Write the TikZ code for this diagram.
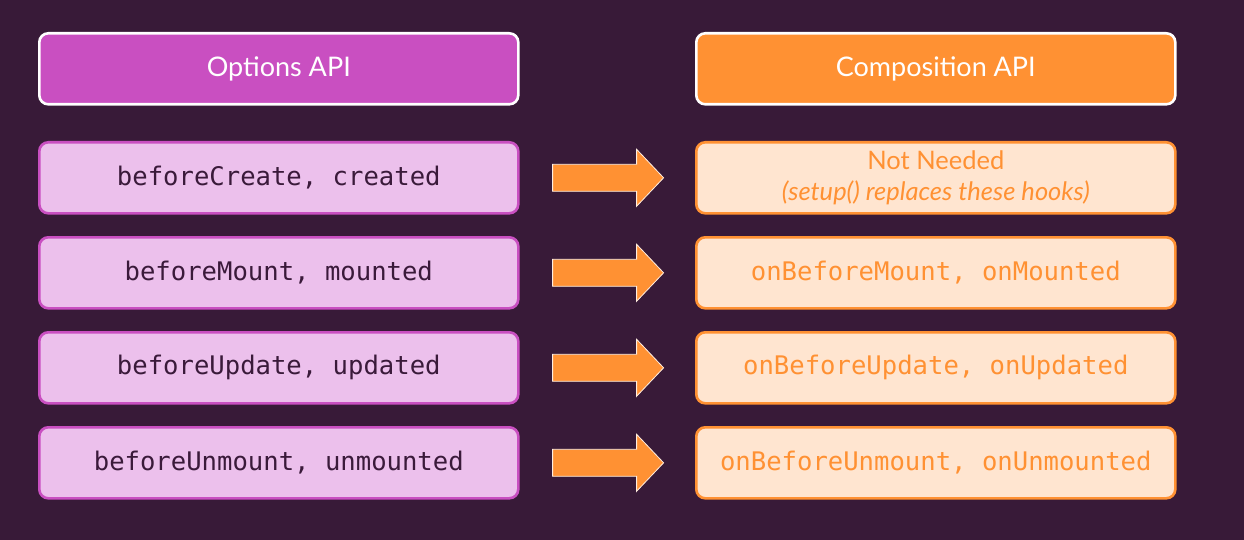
\documentclass[tikz,border=0pt]{standalone}
\usepackage{fontspec}
\setmainfont{Lato}
\newfontfamily\monofont{DejaVu Sans Mono}
\definecolor{bg}{HTML}{381A38}
\definecolor{mag}{HTML}{C94FC1}
\definecolor{lmag}{HTML}{ECC0EC}
\definecolor{org}{HTML}{FF9133}
\definecolor{lorg}{HTML}{FFE5D0}
\definecolor{dtext}{HTML}{3A1A3A}
\tikzset{
  box/.style={rounded corners=9pt, line width=2.6pt, minimum width=479pt, minimum height=71pt, inner sep=0pt, anchor=north west},
  hleft/.style={box, draw=white, fill=mag, text=white, font=\fontsize{27}{30}\selectfont},
  hright/.style={box, draw=white, fill=org, text=white, font=\fontsize{27}{30}\selectfont},
  rleft/.style={box, draw=mag, fill=lmag, text=dtext, font=\monofont\fontsize{25.6}{28}\selectfont},
  rright/.style={box, draw=org, fill=lorg, text=org, font=\monofont\fontsize{25.6}{28}\selectfont},
  arr/.style={fill=org, draw=white!85!org, line width=0.8pt}
}
\begin{document}
\begin{tikzpicture}[x=1pt,y=-1pt]
\fill[bg] (0,0) rectangle (1244,540);
\useasboundingbox (0,0) rectangle (1244,540);
\node[hleft] (hl) at (38,32) {Options API};
\node[hright] (hr) at (695,32) {Composition API};
\node[rleft] (l1) at (38,141) {beforeCreate, created};
\node[rleft] (l2) at (38,236) {beforeMount, mounted};
\node[rleft] (l3) at (38,331) {beforeUpdate, updated};
\node[rleft] (l4) at (38,426) {beforeUnmount, unmounted};
\node[rright, align=center, font=\fontsize{25.5}{31}\selectfont] (r1) at (695,141) {Not Needed\\\textit{(setup() replaces these hooks)}};
\node[rright] (r2) at (695,236) {onBeforeMount, onMounted};
\node[rright] (r3) at (695,331) {onBeforeUpdate, onUpdated};
\node[rright] (r4) at (695,426) {onBeforeUnmount, onUnmounted};
\foreach \i in {1,2,3,4}{
  \path (l\i.east) ++(33,0) coordinate (a\i);
  \draw[arr] (a\i) ++(0,-13.5) -- ++(84,0) -- ++(0,-15) -- ++(27,28.5) -- ++(-27,28.5) -- ++(0,-15) -- ++(-84,0) -- cycle;
}
\end{tikzpicture}
\end{document}
